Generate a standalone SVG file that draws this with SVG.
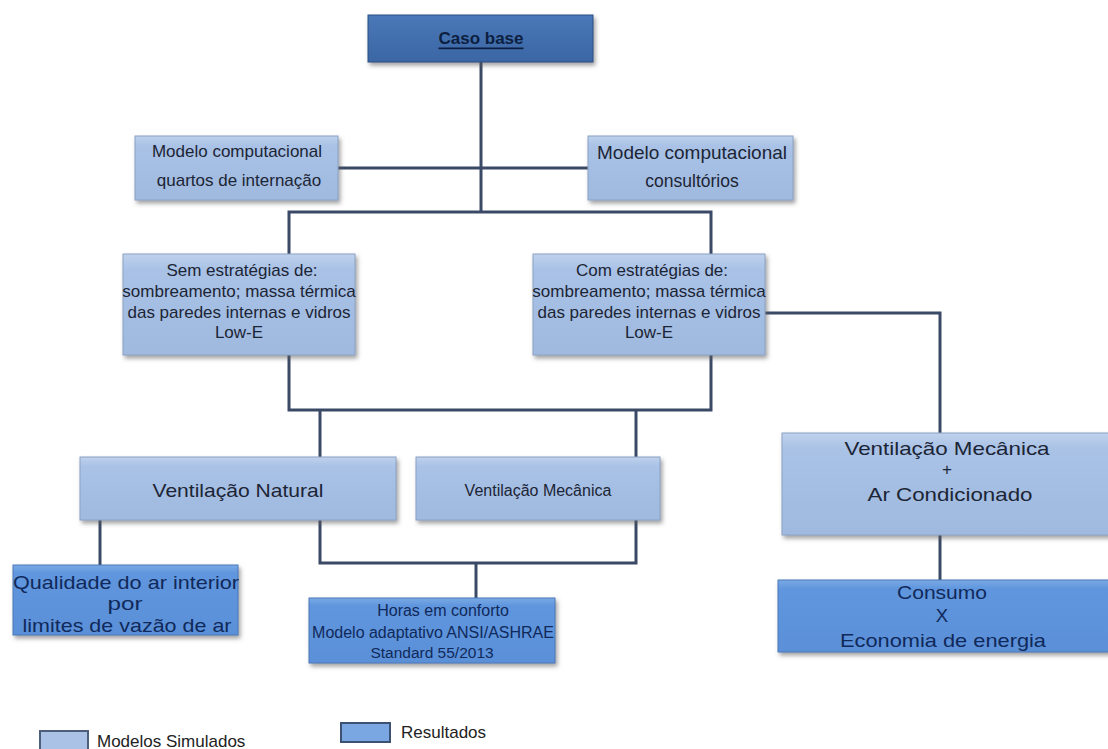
<svg xmlns="http://www.w3.org/2000/svg" width="1108" height="749" viewBox="0 0 1108 749">
<defs>
<linearGradient id="gLight" x1="0" y1="0" x2="0" y2="1">
<stop offset="0" stop-color="#c0d2ec"/>
<stop offset="0.15" stop-color="#a9c2e6"/>
<stop offset="1" stop-color="#9fb9df"/>
</linearGradient>
<linearGradient id="gRes" x1="0" y1="0" x2="0" y2="1">
<stop offset="0" stop-color="#7aaae6"/>
<stop offset="0.12" stop-color="#5f96dd"/>
<stop offset="1" stop-color="#5a90d8"/>
</linearGradient>
<linearGradient id="gBase" x1="0" y1="0" x2="0" y2="1">
<stop offset="0" stop-color="#4a78b8"/>
<stop offset="1" stop-color="#3b66a4"/>
</linearGradient>
<filter id="sh" x="-10%" y="-10%" width="120%" height="130%">
<feDropShadow dx="2" dy="3" stdDeviation="2" flood-color="#555" flood-opacity="0.55"/>
</filter>
</defs>
<style>
.light{fill:url(#gLight);stroke:#8aa2c4;stroke-width:1;filter:url(#sh)}
.res{fill:url(#gRes);stroke:#4a78b8;stroke-width:1;filter:url(#sh)}
.base{fill:url(#gBase);stroke:#2b4f85;stroke-width:1;filter:url(#sh)}
.t{font-family:"Liberation Sans",Arial,sans-serif;font-size:17px;fill:#1c2535;text-anchor:middle;dominant-baseline:central}
.tr{font-family:"Liberation Sans",Arial,sans-serif;font-size:17px;fill:#10295a;text-anchor:middle;dominant-baseline:central}
.w{font-size:18.5px}
.c{fill:none;stroke:#3a4a66;stroke-width:3}
.leg{font-family:"Liberation Sans",Arial,sans-serif;font-size:17px;fill:#222;dominant-baseline:central}
</style>
<g id="connectors">
<path class="c" d="M481,62 V212"/>
<path class="c" d="M338,168 H588"/>
<path class="c" d="M289,255 V212 H711 V255"/>
<path class="c" d="M289,355 V410 H711 V355"/>
<path class="c" d="M320,410 V457"/>
<path class="c" d="M636,410 V457"/>
<path class="c" d="M765,313 H940 V433"/>
<path class="c" d="M940,535 V580"/>
<path class="c" d="M100,520 V565"/>
<path class="c" d="M320,520 V563 H636 V520"/>
<path class="c" d="M476,563 V598"/>
</g>
<g id="caso-base">
<rect class="base" x="368" y="15" width="225" height="47"/>
<text x="481" y="38" font-family="Liberation Sans,Arial,sans-serif" font-size="17" font-weight="bold" fill="#0d1f40" text-anchor="middle" dominant-baseline="central" text-decoration="underline">Caso base</text>
</g>
<g id="modelo-quartos">
<rect class="light" x="135" y="136" width="203" height="64"/>
<text class="t" x="237" y="151">Modelo computacional</text>
<text class="t" x="239" y="180">quartos de internação</text>
</g>
<g id="modelo-consultorios">
<rect class="light" x="588" y="136" width="205" height="64"/>
<text class="t w" x="692" y="152" textLength="190" lengthAdjust="spacingAndGlyphs">Modelo computacional</text>
<text class="t" x="692" y="181" style="font-size:17.5px">consultórios</text>
</g>
<g id="sem-estrategias">
<rect class="light" x="123" y="254" width="232" height="101"/>
<text class="t" x="242" y="270">Sem estratégias de:</text>
<text class="t" x="239" y="291">sombreamento; massa térmica</text>
<text class="t" x="239" y="312">das paredes internas e vidros</text>
<text class="t" x="239" y="332">Low-E</text>
</g>
<g id="com-estrategias">
<rect class="light" x="533" y="254" width="232" height="101"/>
<text class="t" x="652" y="270">Com estratégias de:</text>
<text class="t" x="649" y="291">sombreamento; massa térmica</text>
<text class="t" x="649" y="312">das paredes internas e vidros</text>
<text class="t" x="649" y="332">Low-E</text>
</g>
<g id="ventilacao-natural">
<rect class="light" x="80" y="457" width="316" height="63"/>
<text class="t w" x="238" y="490" textLength="171" lengthAdjust="spacingAndGlyphs">Ventilação Natural</text>
</g>
<g id="ventilacao-mecanica">
<rect class="light" x="416" y="457" width="244" height="63"/>
<text class="t" x="538" y="490" style="font-size:16px">Ventilação Mecânica</text>
</g>
<g id="vm-ar">
<rect class="light" x="782" y="433" width="330" height="102"/>
<text class="t w" x="947" y="448" textLength="205" lengthAdjust="spacingAndGlyphs">Ventilação Mecânica</text>
<text class="t" x="947" y="469">+</text>
<text class="t w" x="950" y="494" textLength="165" lengthAdjust="spacingAndGlyphs">Ar Condicionado</text>
</g>
<g id="qualidade">
<rect class="res" x="13" y="565" width="225" height="70"/>
<text class="tr w" x="126" y="582" textLength="226" lengthAdjust="spacingAndGlyphs">Qualidade do ar interior</text>
<text class="tr w" x="125" y="603" textLength="35" lengthAdjust="spacingAndGlyphs">por</text>
<text class="tr w" x="127" y="625" textLength="209" lengthAdjust="spacingAndGlyphs">limites de vazão de ar</text>
</g>
<g id="horas">
<rect class="res" x="309" y="598" width="246" height="65"/>
<text class="tr" x="443" y="610" style="font-size:16px">Horas em conforto</text>
<text class="tr" x="433" y="632" style="font-size:16px">Modelo adaptativo ANSI/ASHRAE</text>
<text class="tr" x="432" y="652" style="font-size:15.5px">Standard 55/2013</text>
</g>
<g id="consumo">
<rect class="res" x="778" y="580" width="334" height="72"/>
<text class="tr w" x="942" y="592" textLength="90" lengthAdjust="spacingAndGlyphs">Consumo</text>
<text class="tr w" x="942" y="615">X</text>
<text class="tr w" x="943" y="640" textLength="206" lengthAdjust="spacingAndGlyphs">Economia de energia</text>
</g>
<g id="legend">
<rect x="40" y="731" width="48" height="22" fill="#a9c2e6" stroke="#4d5f7a" stroke-width="2"/>
<text class="leg" x="97" y="741">Modelos Simulados</text>
<rect x="341" y="723" width="49" height="19" fill="#7aa6e2" stroke="#3d5273" stroke-width="2"/>
<text class="leg" x="401" y="732">Resultados</text>
</g>
</svg>
